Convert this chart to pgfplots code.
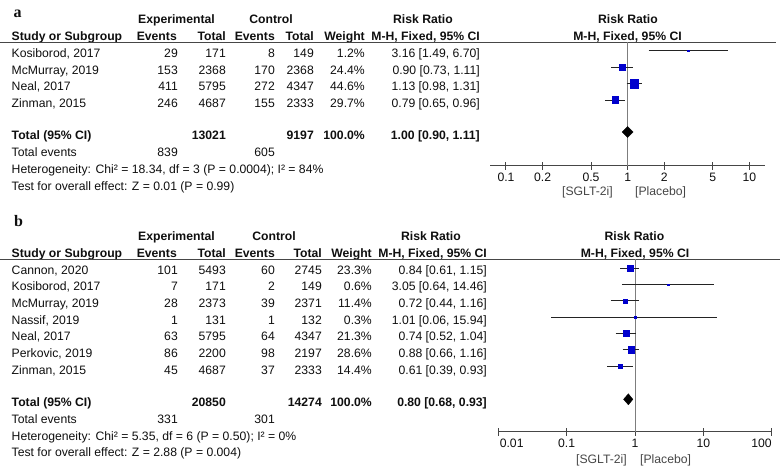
\documentclass[border=0pt]{standalone}
\usepackage{fontspec}
\setmainfont{Liberation Sans}
\newfontfamily\panelfont{Liberation Serif}
\usepackage{pgfplots}
\pgfplotsset{compat=1.18}
\usepackage{pgfplotstable}

\definecolor{sqblue}{RGB}{0,0,205}
\definecolor{ciline}{RGB}{35,35,35}
\definecolor{refline}{RGB}{125,125,125}
\definecolor{rulegray}{RGB}{70,70,70}
\definecolor{txt}{RGB}{15,15,15}

% y = row centre (pixels from top), rr [lo, hi], w = weight in %
\pgfplotstableread{
y     rr    lo    hi    w
50.7  3.16  1.49  6.70  1.2
67.3  0.90  0.73  1.11  24.4
83.6  1.13  0.98  1.31  44.6
100.0 0.79  0.65  0.96  29.7
}\studiesA
\pgfplotstableread{
y     rr    lo    hi     w
268.3 0.84  0.61  1.15   23.3
284.6 3.05  0.64  14.46  0.6
300.9 0.72  0.44  1.16   11.4
317.2 1.01  0.06  15.94  0.3
333.5 0.74  0.52  1.04   21.3
349.8 0.88  0.66  1.16   28.6
366.1 0.61  0.39  0.93   14.4
}\studiesB

\newcommand\fs{\fontsize{12.2bp}{14bp}\selectfont}
% right edges of the columns: events, total, events, total, weight, ratio
\newcommand\cols[6]{\def\xEa{#1}\def\xTa{#2}\def\xEb{#3}\def\xTb{#4}\def\xW{#5}\def\xR{#6}}
\newcommand\studyrow[8]{%
  \node[anchor=base west] at (11.5bp,-#1bp) {#2};
  \node[anchor=base east] at (\xEa bp,-#1bp) {#3};
  \node[anchor=base east] at (\xTa bp,-#1bp) {#4};
  \node[anchor=base east] at (\xEb bp,-#1bp) {#5};
  \node[anchor=base east] at (\xTb bp,-#1bp) {#6};
  \node[anchor=base east] at (\xW bp,-#1bp) {#7};
  \node[anchor=base east] at (\xR bp,-#1bp) {#8};}
% confidence-interval lines, one per study row
\newcommand\cilines[2]{%
  \pgfplotsinvokeforeach{0,...,#2}{%
    \pgfplotstablegetelem{##1}{lo}\of#1\edef\cilo{\pgfplotsretval}%
    \pgfplotstablegetelem{##1}{hi}\of#1\edef\cihi{\pgfplotsretval}%
    \pgfplotstablegetelem{##1}{y}\of#1\edef\ciy{\pgfplotsretval}%
    \addplot[ciline, line width=1bp, forget plot] coordinates {(\cilo,\ciy) (\cihi,\ciy)};
  }}

\pgfplotsset{fplot/.style={
  scale only axis, clip=false,
  axis x line=bottom, axis y line=none,
  x axis line style={-, draw=rulegray, line width=1bp},
  tick align=center, major tick length=8bp, xminorticks=false,
  xtick style={draw=rulegray, line width=1bp},
  xticklabel style={font=\fs, text=txt, inner sep=0pt, anchor=north, yshift=-3bp},
}}

\begin{document}
\begin{tikzpicture}[every node/.style={inner sep=0pt, font=\fs, text=txt}]
\useasboundingbox (0,0) rectangle (783bp,-466bp);

% ---------------- panel a ----------------
\node[anchor=base west, font=\panelfont\bfseries\fontsize{16bp}{18bp}\selectfont] at (13.5bp,-17bp) {a};
\begin{scope}[every node/.append style={font=\fs\bfseries}]
\node[anchor=base] at (176.5bp,-23.5bp) {Experimental};
\node[anchor=base] at (271bp,-23.5bp) {Control};
\node[anchor=base] at (423bp,-23.5bp) {Risk Ratio};
\node[anchor=base] at (628bp,-23.5bp) {Risk Ratio};
\cols{177}{226}{275}{314}{365}{480}
\studyrow{40}{Study or Subgroup}{Events}{Total}{Events}{Total}{Weight}{M-H, Fixed, 95\% CI}
\node[anchor=base] at (627.5bp,-40bp) {M-H, Fixed, 95\% CI};
\end{scope}
\draw[rulegray, line width=1bp] (0,-42bp) -- (776bp,-42bp);
\cols{178}{226}{275}{314}{365}{480}
\studyrow{57.3}{Kosiborod, 2017}{29}{171}{8}{149}{1.2\%}{3.16 [1.49, 6.70]}
\studyrow{74}{McMurray, 2019}{153}{2368}{170}{2368}{24.4\%}{0.90 [0.73, 1.11]}
\studyrow{90.7}{Neal, 2017}{411}{5795}{272}{4347}{44.6\%}{1.13 [0.98, 1.31]}
\studyrow{107.3}{Zinman, 2015}{246}{4687}{155}{2333}{29.7\%}{0.79 [0.65, 0.96]}
\studyrow{139.3}{\bfseries Total (95\% CI)}{}{\bfseries 13021}{}{\bfseries 9197}{\bfseries 100.0\%}{\bfseries 1.00 [0.90, 1.11]}
\studyrow{156.7}{Total events}{839}{}{605}{}{}{}
\node[anchor=base west] at (11.5bp,-173.3bp) {Heterogeneity: Chi² = 18.34, df = 3 (P = 0.0004); I² = 84\%};
\node[anchor=base west] at (11.5bp,-190bp) {Test for overall effect: Z = 0.01 (P = 0.99)};

\begin{axis}[fplot, xmode=log, y dir=reverse, anchor=south west,
  at={(490bp,-165.7bp)}, width=275bp, height=123.7bp,
  xmin=0.0739, xmax=13.46, ymin=42, ymax=165.7,
  xtick={0.1,0.2,0.5,1,2,5,10}, xticklabels={0.1,0.2,0.5,1,2,5,10}]
\addplot[refline, line width=1bp] coordinates {(1,42) (1,165.7)};
\cilines{\studiesA}{3}
\addplot[scatter, only marks, mark=square*,
  scatter/use mapped color={draw=sqblue, fill=sqblue},
  visualization depends on={\thisrow{w} \as \wt},
  scatter/@pre marker code/.append style={/tikz/mark size={max(0.9,0.62*sqrt(\wt))}}]
  table[x=rr, y=y] {\studiesA};
\addplot[fill=black, draw=black] coordinates {(0.90,132) (1.00,126.5) (1.11,132) (1.00,137.5)} -- cycle;
\end{axis}
\node[anchor=base east, text=rulegray] at (613bp,-195bp) {[SGLT-2i]};
\node[anchor=base west, text=rulegray] at (635bp,-195bp) {[Placebo]};

% ---------------- panel b ----------------
\node[anchor=base west, font=\panelfont\bfseries\fontsize{16bp}{18bp}\selectfont] at (14bp,-226bp) {b};
\begin{scope}[every node/.append style={font=\fs\bfseries}]
\node[anchor=base] at (176.5bp,-240.5bp) {Experimental};
\node[anchor=base] at (274bp,-240.5bp) {Control};
\node[anchor=base] at (431bp,-240.5bp) {Risk Ratio};
\node[anchor=base] at (634.5bp,-240.5bp) {Risk Ratio};
\cols{177}{226}{275}{322}{372}{487}
\studyrow{257.3}{Study or Subgroup}{Events}{Total}{Events}{Total}{Weight}{M-H, Fixed, 95\% CI}
\node[anchor=base] at (635bp,-257.3bp) {M-H, Fixed, 95\% CI};
\end{scope}
\draw[rulegray, line width=1bp] (0,-259.3bp) -- (780bp,-259.3bp);
\cols{178}{226}{275}{322}{372}{487}
\studyrow{274}{Cannon, 2020}{101}{5493}{60}{2745}{23.3\%}{0.84 [0.61, 1.15]}
\studyrow{290.7}{Kosiborod, 2017}{7}{171}{2}{149}{0.6\%}{3.05 [0.64, 14.46]}
\studyrow{307.3}{McMurray, 2019}{28}{2373}{39}{2371}{11.4\%}{0.72 [0.44, 1.16]}
\studyrow{324}{Nassif, 2019}{1}{131}{1}{132}{0.3\%}{1.01 [0.06, 15.94]}
\studyrow{340.7}{Neal, 2017}{63}{5795}{64}{4347}{21.3\%}{0.74 [0.52, 1.04]}
\studyrow{357.3}{Perkovic, 2019}{86}{2200}{98}{2197}{28.6\%}{0.88 [0.66, 1.16]}
\studyrow{374}{Zinman, 2015}{45}{4687}{37}{2333}{14.4\%}{0.61 [0.39, 0.93]}
\studyrow{406}{\bfseries Total (95\% CI)}{}{\bfseries 20850}{}{\bfseries 14274}{\bfseries 100.0\%}{\bfseries 0.80 [0.68, 0.93]}
\studyrow{423.3}{Total events}{331}{}{301}{}{}{}
\node[anchor=base west] at (11.5bp,-440bp) {Heterogeneity: Chi² = 5.35, df = 6 (P = 0.50); I² = 0\%};
\node[anchor=base west] at (11.5bp,-456.7bp) {Test for overall effect: Z = 2.88 (P = 0.004)};

\begin{axis}[fplot, xmode=log, y dir=reverse, anchor=south west,
  at={(498.3bp,-431.7bp)}, width=273.4bp, height=172.4bp,
  xmin=0.01, xmax=100, ymin=259.3, ymax=431.7,
  xtick={0.01,0.1,1,10,100},
  xticklabels={\makebox[0pt][l]{\hspace{1.5bp}0.01},0.1,1,10,\makebox[0pt][r]{100}}]
\addplot[refline, line width=1bp] coordinates {(1,259.3) (1,431.7)};
\cilines{\studiesB}{6}
\addplot[scatter, only marks, mark=square*,
  scatter/use mapped color={draw=sqblue, fill=sqblue},
  visualization depends on={\thisrow{w} \as \wt},
  scatter/@pre marker code/.append style={/tikz/mark size={max(0.9,0.62*sqrt(\wt))}}]
  table[x=rr, y=y] {\studiesB};
\addplot[fill=black, draw=black] coordinates {(0.68,399.3) (0.80,393.8) (0.93,399.3) (0.80,404.8)} -- cycle;
\end{axis}
\node[anchor=base east, text=rulegray] at (627bp,-463bp) {[SGLT-2i]};
\node[anchor=base west, text=rulegray] at (640bp,-463bp) {[Placebo]};
\end{tikzpicture}
\end{document}
